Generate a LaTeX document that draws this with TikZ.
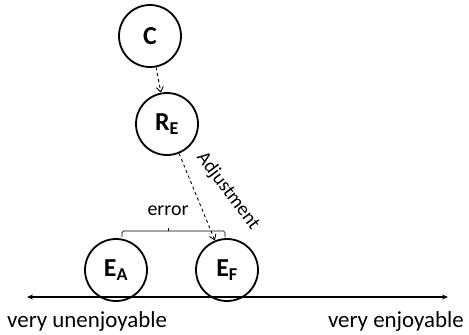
\documentclass[tikz,border=0pt]{standalone}
\usepackage{fontspec}
\setmainfont{Carlito}
\usetikzlibrary{arrows.meta}
\begin{document}
\begin{tikzpicture}[x=1bp,y=-1bp,
  var/.style={circle,draw=black,line width=1.8bp,minimum size=62bp,inner sep=0pt,font=\fontsize{26}{30}\selectfont\bfseries},
  dasharrow/.style={dashed,line width=0.9bp,-{Straight Barb[length=5bp,width=7bp]}},
  lbl/.style={font=\fontsize{23}{27}\selectfont,inner sep=0pt}]
\useasboundingbox (0,0) rectangle (469,334);
\node[var] (C) at (150,36) {C};
\node[var] (R) at (167,124) {R\textsubscript{E}};
\node[var] (EA) at (116,270) {E\textsubscript{A}};
\node[var] (EF) at (227,270) {E\textsubscript{F}};
\coordinate (L) at (27,297);
\coordinate (Rt) at (448,297);
\draw[line width=1.3bp,{Stealth[length=6bp,width=5bp]}-{Stealth[length=6bp,width=5bp]}] (L) -- (Rt);
\node[lbl,anchor=base west] (lu) at (7,327) {very unenjoyable};
\node[lbl,anchor=base east] (le) at (464,327) {very enjoyable};
\draw[dasharrow] (C) -- (R);
\draw[dasharrow] (R) -- (EF);
\node[lbl,rotate=-53,font=\fontsize{19.5}{22}\selectfont] (adj) at (228,191) {Adjustment};
\coordinate (b1) at (122,237);
\coordinate (b2) at (225,237);
\draw[line width=0.7bp,rounded corners=1.5bp] (b1) -- (122,231) -- (225,231) -- (b2);
\draw[line width=0.7bp] (168,231) -- (168,228);
\node[lbl,font=\fontsize{20}{24}\selectfont] (err) at (168,211) {error};
\end{tikzpicture}
\end{document}
